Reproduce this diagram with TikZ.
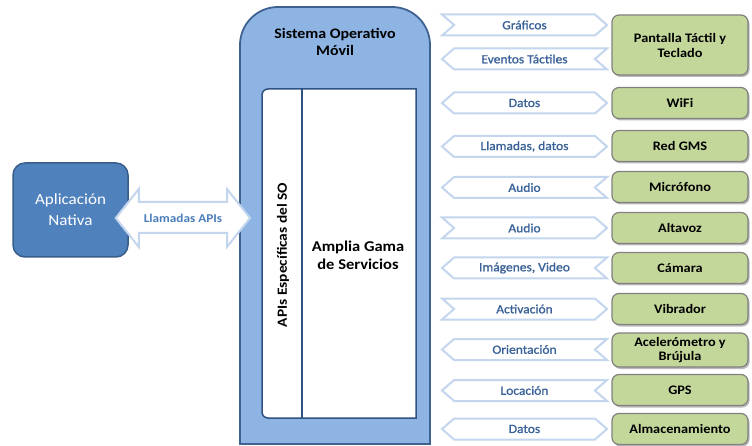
\documentclass[tikz,border=0pt]{standalone}
\usepackage{fontspec}
\setmainfont{Carlito}[FakeStretch=1.1]
\newfontfamily\chevfont{Carlito}[FakeStretch=1.08, FakeBold=1.2]
\usetikzlibrary{shapes.symbols,shadows,calc}
\definecolor{osfill}{HTML}{8DB4E2}
\definecolor{osline}{HTML}{3F6190}
\definecolor{appfill}{HTML}{4F81BD}
\definecolor{appline}{HTML}{385D8A}
\definecolor{innerline}{HTML}{2F5283}
\definecolor{chevline}{HTML}{C3D6EE}
\definecolor{chevtext}{HTML}{3A6298}
\definecolor{apitext}{HTML}{4A7EBB}
\definecolor{greenfill}{HTML}{C4D79B}
\definecolor{greenline}{HTML}{808080}
\tikzset{
  chev/.style={shape=signal, draw=chevline, line width=2pt, fill=white,
    minimum width=165pt, minimum height=21pt, signal pointer angle=82,
    inner sep=0pt, font=\chevfont\fontsize{12.5}{14}\selectfont, text=chevtext},
  chevL/.style={chev, signal to=west, signal from=east},
  chevR/.style={chev, signal to=east, signal from=west},
  chevB/.style={chev, signal to=east and west, signal from=nowhere},
  greenbox/.style={draw=greenline, line width=1.2pt, fill=greenfill,
    rounded corners=7pt, minimum width=136pt, minimum height=31pt,
    inner sep=1pt, align=center, font=\bfseries\fontsize{13}{15}\selectfont,
    drop shadow={shadow xshift=1.5pt, shadow yshift=-2pt, fill=black!45, opacity=0.6}},
}
\begin{document}
\begin{tikzpicture}[x=1pt,y=-1pt]
\useasboundingbox (0,0) rectangle (752,446);
% OS box
\draw[fill=osfill, draw=osline, line width=1.8pt]
  (240,444) -- (240,45) arc[start angle=180,end angle=270,radius=38]
  -- (392,7) arc[start angle=270,end angle=360,radius=38] -- (430,444) -- cycle;
\node[font=\bfseries\fontsize{14.5}{17}\selectfont, align=center] (os) at (335,42) {Sistema Operativo\\Móvil};
\coordinate (osleft) at (240,218);
% inner white box
\draw[fill=white, draw=innerline, line width=1.5pt]
  (416,89) -- (268,89) arc[start angle=270,end angle=180,radius=6]
  -- (262,412) arc[start angle=180,end angle=90,radius=6] -- (416,418) -- cycle;
\draw[draw=innerline, line width=1.5pt] (302,89) -- (302,418);
\node[rotate=90, font=\bfseries\fontsize{14}{16}\selectfont] (apis) at (283,255) {APIs Específicas del SO};
\node[align=center, font=\bfseries\fontsize{15}{18}\selectfont] (serv) at (358,255) {Amplia Gama\\de Servicios};
% application
\node[draw=appline, line width=1.5pt, fill=appfill, rounded corners=12pt,
  minimum width=115pt, minimum height=94pt, text=white, align=center,
  font=\fontsize{15.5}{21}\selectfont] (app) at (70.5,210) {Aplicación\\Nativa};
% double arrow
\draw[draw=chevline, line width=2pt, fill=white]
  ($(app.east)+(-13,8)$) coordinate (la) -- ++(23,-29) -- ++(0,13) -- ($(osleft)+(-13,-16)$)
  -- ++(0,-13) -- ($(osleft)+(10,0)$) -- ++(-23,29) -- ++(0,-14) -- ($(la)+(23,15)$) -- ++(0,14) -- cycle;
\node[font=\bfseries\fontsize{12}{14}\selectfont, text=apitext] (llam) at (183,218) {Llamadas APIs};
% chevrons
\node[chevR] (c1) at (524.5,25) {Gráficos};
\node[chevL] (c2) at (524.5,59) {Eventos Táctiles};
\node[chevB] (c3) at (524.5,103) {Datos};
\node[chevB] (c4) at (524.5,146.5) {Llamadas, datos};
\node[chevL] (c5) at (524.5,187.5) {Audio};
\node[chevR] (c6) at (524.5,228) {Audio};
\node[chevL] (c7) at (524.5,268) {Imágenes, Video};
\node[chevR] (c8) at (524.5,309) {Activación};
\node[chevL] (c9) at (524.5,349.5) {Orientación};
\node[chevL] (c10) at (524.5,390.5) {Locación};
\node[chevB] (c11) at (524.5,429) {Datos};
% green boxes
\node[greenbox, minimum height=60pt] (g1) at (680,45) {Pantalla Táctil y\\Teclado};
\node[greenbox] (g2) at (680,103) {WiFi};
\node[greenbox] (g3) at (680,146) {Red GMS};
\node[greenbox] (g4) at (680,187) {Micrófono};
\node[greenbox] (g5) at (680,228) {Altavoz};
\node[greenbox] (g6) at (680,268) {Cámara};
\node[greenbox] (g7) at (680,309) {Vibrador};
\node[greenbox, minimum height=34pt, font=\bfseries\fontsize{13}{14}\selectfont] (g8) at (680,350) {Acelerómetro y\\Brújula};
\node[greenbox] (g9) at (680,390) {GPS};
\node[greenbox] (g10) at (680,429) {Almacenamiento};
\end{tikzpicture}
\end{document}
